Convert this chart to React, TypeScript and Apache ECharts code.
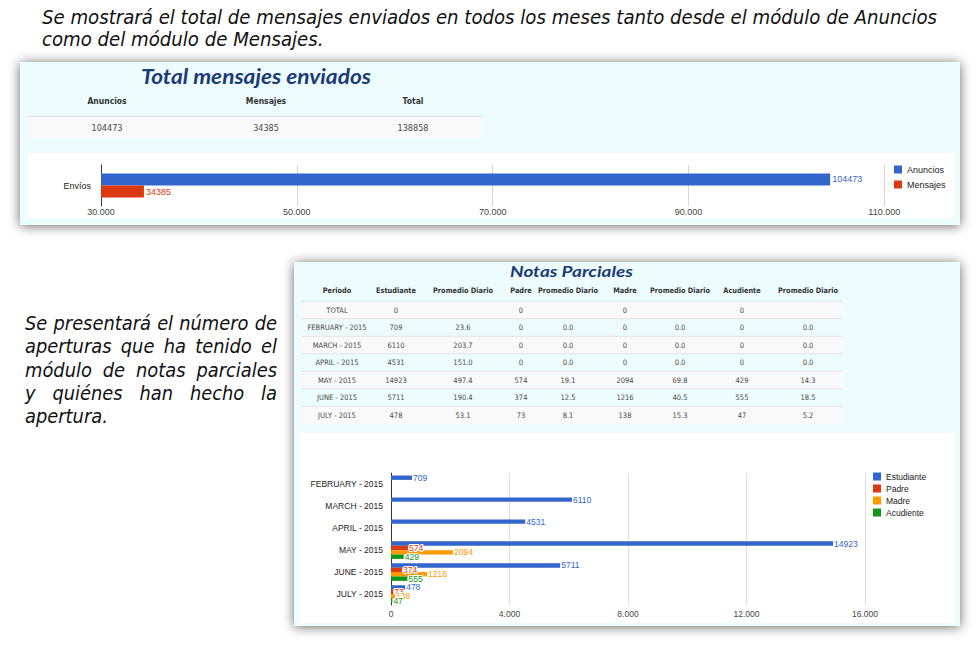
import React, { useEffect, useRef } from 'react';
import * as echarts from 'echarts';

// ---------------- data ----------------
const introLines = [
  'Se mostrará el total de mensajes enviados en todos los meses tanto desde el módulo de Anuncios',
  'como del módulo de Mensajes.',
];
const sideLines = [
  'Se presentará el número de',
  'aperturas que ha tenido el',
  'módulo de notas parciales',
  'y quiénes han hecho la',
  'apertura.',
];

const totalTitle = 'Total mensajes enviados';
const totalHeaders = ['Anuncios', 'Mensajes', 'Total'];
const totalRow = ['104473', '34385', '138858'];

const envioCategories = ['Envíos'];
const envioSeries = ['Anuncios', 'Mensajes'];
const anuncios = [104473];
const mensajes = [34385];
const envioTicks = [30000, 50000, 70000, 90000, 110000];

const notasTitle = 'Notas Parciales';
const notasHeaders = [
  'Periodo', 'Estudiante', 'Promedio Diario', 'Padre', 'Promedio Diario',
  'Madre', 'Promedio Diario', 'Acudiente', 'Promedio Diario',
];
const periodos = ['TOTAL', 'FEBRUARY - 2015', 'MARCH - 2015', 'APRIL - 2015', 'MAY - 2015', 'JUNE - 2015', 'JULY - 2015'];
const estudiante = [0, 709, 6110, 4531, 14923, 5711, 478];
const estudianteProm = ['', '23.6', '203.7', '151.0', '497.4', '190.4', '53.1'];
const padre = [0, 0, 0, 0, 574, 374, 73];
const padreProm = ['', '0.0', '0.0', '0.0', '19.1', '12.5', '8.1'];
const madre = [0, 0, 0, 0, 2094, 1216, 138];
const madreProm = ['', '0.0', '0.0', '0.0', '69.8', '40.5', '15.3'];
const acudiente = [0, 0, 0, 0, 429, 555, 47];
const acudienteProm = ['', '0.0', '0.0', '0.0', '14.3', '18.5', '5.2'];
const notasSeries = ['Estudiante', 'Padre', 'Madre', 'Acudiente'];
const notasTicks = [0, 4000, 8000, 12000, 16000];

// ---------------- styles ----------------
const COLORS = ['#3366cc', '#dc3912', '#ff9900', '#109618'];
const UI = "'Liberation Sans', Arial, sans-serif";
const TAB = "'DejaVu Sans', Verdana, sans-serif";
const NARROW = "'Liberation Sans Narrow', 'DejaVu Sans Condensed', 'Liberation Sans', sans-serif";
const TITLE = "Lato, 'Open Sans', sans-serif";
const CYAN = '#edfdfe';

let mctx: CanvasRenderingContext2D | null = null;
function measure(text: string, font: string) {
  if (!mctx) mctx = document.createElement('canvas').getContext('2d');
  mctx!.font = font;
  return mctx!.measureText(text).width;
}
type TO = { size: number; family: string; color?: string; weight?: string; style?: string; align?: string; sx?: number; z?: number };
function fontStr(o: TO) {
  return `${o.style || 'normal'} ${o.weight || 'normal'} ${o.size}px ${o.family}`;
}
function txt(text: string, x: number, y: number, o: TO) {
  return {
    type: 'text', x, y, scaleX: o.sx ?? 1, z: o.z ?? 20, silent: true,
    style: {
      text, fill: o.color || '#222', fontSize: o.size, fontFamily: o.family,
      fontWeight: o.weight || 'normal', fontStyle: o.style || 'normal',
      textAlign: o.align || 'left', textVerticalAlign: 'middle', verticalAlign: 'middle',
    },
  };
}
const fmt = (v: number) => String(v).replace(/\B(?=(\d{3})+(?!\d))/g, '.');

function buildGraphic() {
  const g: any[] = [];
  // intro text
  const fIntro: TO = { size: 20, family: NARROW, style: 'italic', color: '#111' };
  const sxIntro = 895 / measure(introLines[0], fontStr(fIntro));
  introLines.forEach((l, i) => g.push(txt(l, 42, 17 + i * 22, { ...fIntro, sx: sxIntro })));

  // side paragraph (justified)
  const fSide: TO = { size: 19, family: TAB, style: 'italic', color: '#111', sx: 0.94 };
  const sideYs = [323, 346, 370, 393, 416];
  sideLines.forEach((l, i) => {
    const words = l.split(' ');
    const last = i === sideLines.length - 1;
    const ws = words.map((w) => measure(w, fontStr(fSide)) * (fSide.sx as number));
    const total = ws.reduce((a, b) => a + b, 0);
    const space = measure(' ', fontStr(fSide)) * (fSide.sx as number);
    const gap = last || words.length < 2 ? space : (252 - total) / (words.length - 1);
    let x = 25;
    words.forEach((w, k) => {
      g.push(txt(w, x, sideYs[i], fSide));
      x += ws[k] + gap;
    });
  });

  // panel 1
  g.push({ type: 'rect', z: -10, silent: true, shape: { x: 20, y: 62, width: 940, height: 163 },
    style: { fill: CYAN, shadowBlur: 12, shadowColor: 'rgba(0,0,0,0.6)', shadowOffsetX: 0, shadowOffsetY: 1 } });
  g.push({ type: 'rect', z: -9, silent: true, shape: { x: 28, y: 153, width: 927, height: 65 }, style: { fill: '#ffffff' } });
  const fT1: TO = { size: 20, family: TITLE, style: 'italic', weight: 'bold', color: '#1d3a78', align: 'center' };
  g.push(txt(totalTitle, 256, 77, { ...fT1, sx: 230 / measure(totalTitle, fontStr(fT1)) }));
  g.push({ type: 'rect', z: -8, silent: true, shape: { x: 28, y: 116, width: 454, height: 23 }, style: { fill: '#f9f9f9' } });
  g.push({ type: 'line', z: -7, silent: true, shape: { x1: 28, y1: 116.5, x2: 482, y2: 116.5 }, style: { stroke: '#dddddd', lineWidth: 1 } });
  const col1 = [107, 266, 413];
  totalHeaders.forEach((h, i) => g.push(txt(h, col1[i], 101, { size: 9, family: TAB, weight: 'bold', color: '#333', align: 'center', sx: 0.85 })));
  totalRow.forEach((v, i) => g.push(txt(v, col1[i], 128, { size: 9, family: TAB, color: '#4a4a4a', align: 'center', sx: 0.9 })));

  // panel 2
  g.push({ type: 'rect', z: -10, silent: true, shape: { x: 294, y: 262, width: 666, height: 364 },
    style: { fill: CYAN, shadowBlur: 12, shadowColor: 'rgba(0,0,0,0.6)', shadowOffsetX: 0, shadowOffsetY: 1 } });
  g.push({ type: 'rect', z: -9, silent: true, shape: { x: 300, y: 433, width: 655, height: 190 }, style: { fill: '#ffffff' } });
  const fT2: TO = { size: 16, family: TITLE, style: 'italic', weight: 'bold', color: '#1d3a78', align: 'center' };
  g.push(txt(notasTitle, 571.5, 271, { ...fT2, sx: 123 / measure(notasTitle, fontStr(fT2)) }));
  const col2 = [337, 396, 463, 521, 568, 625, 680, 742, 808];
  notasHeaders.forEach((h, i) => g.push(txt(h, col2[i], 290, { size: 7.5, family: TAB, weight: 'bold', color: '#333', align: 'center', sx: 0.88 })));
  const columns: (string | number)[][] = [periodos, estudiante, estudianteProm, padre, padreProm, madre, madreProm, acudiente, acudienteProm];
  periodos.forEach((_, r) => {
    const cy = 310 + r * 17.5;
    if (r % 2 === 0) {
      g.push({ type: 'rect', z: -8, silent: true, shape: { x: 301, y: cy - 8.75, width: 541, height: 17.5 }, style: { fill: '#f9f9f9' } });
    }
    g.push({ type: 'line', z: -7, silent: true, shape: { x1: 301, y1: cy - 8.75, x2: 842, y2: cy - 8.75 }, style: { stroke: '#e2e2e2', lineWidth: 1 } });
    columns.forEach((c, k) => {
      const v = String(c[r]);
      if (v !== '') g.push(txt(v, col2[k], cy, { size: 7.5, family: TAB, color: '#4a4a4a', align: 'center', sx: 0.9 }));
    });
  });
  return g;
}

function buildOption() {
  const months = periodos.slice(1);
  const notasData = [estudiante, padre, madre, acudiente].map((a) => a.slice(1));
  const labelFmt = (p: any) => (p.value === 0 ? '' : String(p.value));
  const axisText = { fontFamily: UI, color: '#444' };
  return {
    animation: false,
    backgroundColor: '#ffffff',
    graphic: { elements: buildGraphic() },
    legend: [
      {
        data: envioSeries, left: 894, top: 165, orient: 'vertical', icon: 'rect',
        itemWidth: 8, itemHeight: 8, itemGap: 6, padding: 0,
        textStyle: { fontSize: 9, fontFamily: UI, color: '#222' },
      },
      {
        data: notasSeries, left: 873, top: 472, orient: 'vertical', icon: 'rect',
        itemWidth: 8, itemHeight: 8, itemGap: 3, padding: 0,
        textStyle: { fontSize: 8.5, fontFamily: UI, color: '#222' },
      },
    ],
    grid: [
      { left: 101, top: 165, width: 783.3, height: 41 },
      { left: 391, top: 473.3, width: 474, height: 131.7 },
    ],
    xAxis: [
      {
        type: 'value', gridIndex: 0, min: 30000, max: 110000, interval: 10000,
        axisLine: { show: false }, axisTick: { show: false },
        axisLabel: { ...axisText, fontSize: 9, margin: 1, formatter: (v: number) => (envioTicks.includes(v) ? fmt(v) : '') },
        splitLine: { lineStyle: { color: ['#d6d6d6', 'rgba(0,0,0,0)'], width: 1 } },
      },
      {
        type: 'value', gridIndex: 1, min: 0, max: 16000, interval: 4000,
        axisLine: { show: false }, axisTick: { show: false },
        axisLabel: { ...axisText, fontSize: 8.5, margin: 4, formatter: (v: number) => (notasTicks.includes(v) ? fmt(v) : '') },
        splitLine: { lineStyle: { color: '#dedede', width: 1 } },
      },
    ],
    yAxis: [
      {
        type: 'category', gridIndex: 0, data: envioCategories,
        axisLine: { lineStyle: { color: '#333', width: 1 } }, axisTick: { show: false },
        axisLabel: { fontFamily: UI, color: '#222', fontSize: 9, margin: 10 },
      },
      {
        type: 'category', gridIndex: 1, data: months, inverse: true,
        axisLine: { lineStyle: { color: '#333', width: 1 } }, axisTick: { show: false },
        axisLabel: { fontFamily: UI, color: '#222', fontSize: 8.5, margin: 8 },
      },
    ],
    series: [
      ...[anuncios, mensajes].map((d, i) => ({
        name: envioSeries[i], type: 'bar', xAxisIndex: 0, yAxisIndex: 0, data: d,
        barGap: '0%', barCategoryGap: '41%',
        itemStyle: { color: COLORS[i] },
        label: { show: true, position: 'right', distance: 2, fontSize: 9, fontFamily: UI, color: COLORS[i], formatter: labelFmt },
      })),
      ...notasData.map((d, i) => ({
        name: notasSeries[i], type: 'bar', xAxisIndex: 1, yAxisIndex: 1, data: d,
        barGap: '0%', barCategoryGap: '20%',
        itemStyle: { color: COLORS[i] },
        label: {
          show: true, position: 'right', distance: 1, fontSize: 8.5, fontFamily: UI, color: COLORS[i],
          textBorderColor: '#ffffff', textBorderWidth: 2, formatter: labelFmt,
        },
      })),
    ],
  };
}

export default function App() {
  const ref = useRef<HTMLDivElement>(null);
  useEffect(() => {
    const chart = echarts.init(ref.current!, undefined, { renderer: 'svg', width: 980, height: 646 });
    chart.setOption(buildOption() as any);
    return () => chart.dispose();
  }, []);
  return (
    <div
      ref={ref}
      style={{ position: 'fixed', left: 0, top: 0, width: 980, height: 646, background: '#ffffff' }}
    />
  );
}
